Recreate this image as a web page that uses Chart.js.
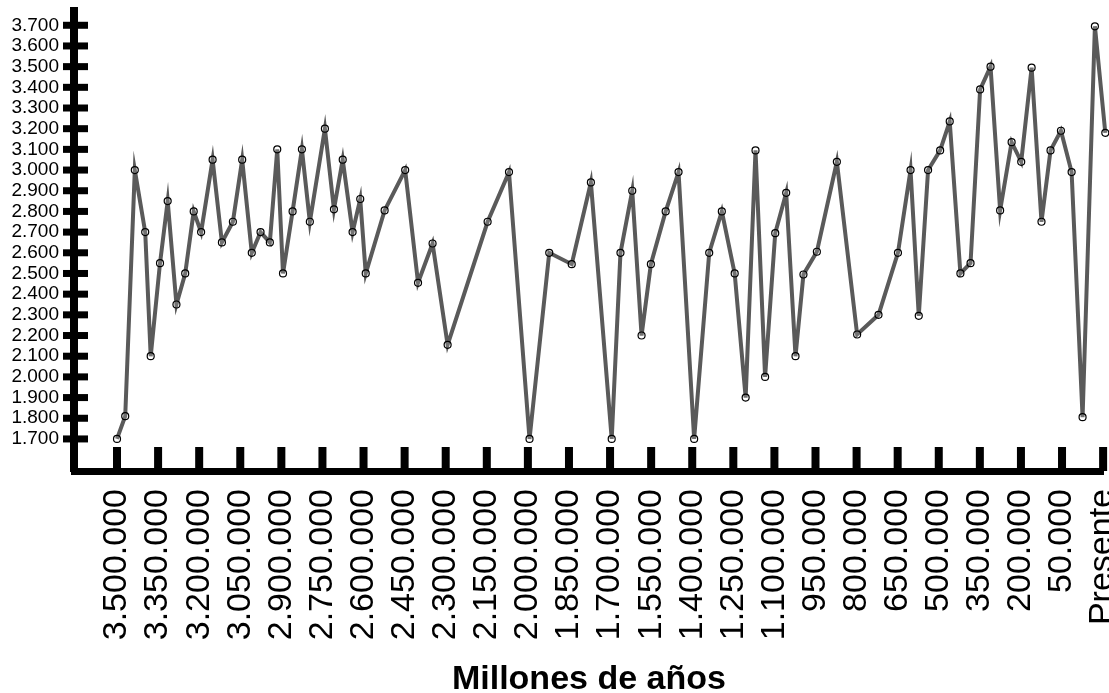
<!DOCTYPE html>
<html>
<head>
<meta charset="utf-8">
<script src="https://cdn.jsdelivr.net/npm/chart.js@4/dist/chart.umd.min.js"></script>
<style>
  body { margin: 0; background: #fff; }
  canvas { display: block; }
</style>
</head>
<body>
<canvas id="chart" width="1109" height="693"></canvas>
<script>
// years before present
const years = [
  3500000, 3470000, 3435000, 3397000, 3377000, 3343000, 3315000, 3283000, 3251000, 3220000,
  3193000, 3151000, 3117000, 3077000, 3043000, 3008000, 2976000, 2942000, 2915000, 2894000,
  2859000, 2825000, 2796000, 2741000, 2708000, 2676000, 2640000, 2612000, 2592000, 2523000,
  2448000, 2401000, 2348000, 2293000, 2147000, 2069000, 1994000, 1922000, 1840000, 1770000,
  1694000, 1662000, 1619000, 1585000, 1551000, 1497000, 1450000, 1393000, 1338000, 1292000,
  1245000, 1205000, 1169000, 1134000, 1097000, 1057000, 1023000, 994000, 945000, 872000,
  798000, 720000, 649000, 603000, 573000, 539000, 495000, 460000, 421000, 384000,
  349000, 311000, 276000, 234000, 199000, 161000, 125000, 92000, 54000, 15000,
  -25000, -70000, -108000
];

const values = [
  1700, 1810, 3000, 2700, 2100, 2550, 2850, 2350, 2500, 2800,
  2700, 3050, 2650, 2750, 3050, 2600, 2700, 2650, 3100, 2500,
  2800, 3100, 2750, 3200, 2810, 3050, 2700, 2860, 2500, 2805,
  3000, 2455, 2645, 2155, 2750, 2990, 1700, 2600, 2545, 2940,
  1700, 2600, 2900, 2200, 2545, 2800, 2990, 1700, 2600, 2800,
  2500, 1900, 3095, 2000, 2695, 2890, 2100, 2495, 2605, 3040,
  2205, 2300, 2600, 3000, 2295, 3000, 3095, 3235, 2500, 2550,
  3390, 3500, 2805, 3135, 3040, 3495, 2750, 3095, 3190, 2990,
  1805, 3695, 3180
];

const xTickValues = [
  3500000, 3350000, 3200000, 3050000, 2900000, 2750000, 2600000, 2450000, 2300000,
  2150000, 2000000, 1850000, 1700000, 1550000, 1400000, 1250000, 1100000, 950000,
  800000, 650000, 500000, 350000, 200000, 50000, -100000
];
const xTickLabels = [
  "3.500.000", "3.350.000", "3.200.000", "3.050.000", "2.900.000", "2.750.000",
  "2.600.000", "2.450.000", "2.300.000", "2.150.000", "2.000.000", "1.850.000",
  "1.700.000", "1.550.000", "1.400.000", "1.250.000", "1.100.000", "950.000",
  "800.000", "650.000", "500.000", "350.000", "200.000", "50.000", "Presente"
];
const yTickValues = [
  1700, 1800, 1900, 2000, 2100, 2200, 2300, 2400, 2500, 2600, 2700,
  2800, 2900, 3000, 3100, 3200, 3300, 3400, 3500, 3600, 3700
];

const fmt = (v) => String(v).replace(/\B(?=(\d{3})+(?!\d))/g, ".");
const FONT = "'Liberation Sans', Arial, sans-serif";

// thick black tick marks that cross the axis lines
const tickMarks = {
  id: "tickMarks",
  beforeDatasetsDraw(chart) {
    const { ctx, chartArea, scales } = chart;
    ctx.save();
    ctx.fillStyle = "#000";
    scales.y.ticks.forEach((t) => {
      const py = scales.y.getPixelForValue(t.value);
      ctx.fillRect(chartArea.left - 11, py - 3.5, 25, 7);
    });
    scales.x.ticks.forEach((t) => {
      const px = scales.x.getPixelForValue(t.value);
      ctx.fillRect(px - 4, chartArea.bottom - 24, 8, 24);
    });
    ctx.restore();
  },
};

const ctx = document.getElementById("chart").getContext("2d");

new Chart(ctx, {
  type: "line",
  data: {
    datasets: [
      {
        data: years.map((x, i) => ({ x: x, y: values[i] })),
        borderColor: "#5a5a5a",
        borderWidth: 4,
        borderJoinStyle: "miter",
        tension: 0,
        pointRadius: 3.5,
        pointBorderWidth: 1.2,
        pointBorderColor: "#000",
        pointBackgroundColor: "rgba(255,255,255,0.15)",
        clip: false,
      },
    ],
  },
  options: {
    responsive: false,
    animation: false,
    devicePixelRatio: 1,
    layout: { padding: { top: 11, right: 5, left: 0, bottom: 0 } },
    plugins: {
      legend: { display: false },
      tooltip: { enabled: false },
    },
    scales: {
      x: {
        type: "linear",
        reverse: true,
        min: -102500,
        max: 3657000,
        afterBuildTicks: (scale) => {
          scale.ticks = xTickValues.map((v) => ({ value: v }));
        },
        afterFit: (scale) => {
          scale.height = 222;
          scale.paddingLeft = 0;
          scale.paddingRight = 0;
        },
        grid: { drawOnChartArea: false, drawTicks: false },
        border: { display: true, color: "#000", width: 7 },
        ticks: {
          autoSkip: false,
          maxRotation: 90,
          minRotation: 90,
          padding: 18,
          color: "#000",
          font: { family: FONT, size: 34 },
          callback: (value) => {
            const i = xTickValues.indexOf(value);
            return i >= 0 ? xTickLabels[i] : "";
          },
        },
        title: {
          display: true,
          text: "Millones de años",
          color: "#000",
          font: { family: FONT, size: 34, weight: "bold", lineHeight: 0.8 },
          padding: { top: 0, bottom: 0 },
        },
      },
      y: {
        type: "linear",
        min: 1545,
        max: 3769,
        afterBuildTicks: (scale) => {
          scale.ticks = yTickValues.map((v) => ({ value: v }));
        },
        afterFit: (scale) => {
          scale.width = 74;
          scale.paddingTop = 0;
          scale.paddingBottom = 0;
        },
        grid: { drawOnChartArea: false, drawTicks: false },
        border: { display: true, color: "#000", width: 8 },
        ticks: {
          autoSkip: false,
          padding: 15,
          color: "#000",
          font: { family: FONT, size: 19 },
          callback: (value) => fmt(value),
        },
      },
    },
  },
  plugins: [tickMarks],
});
</script>
</body>
</html>
